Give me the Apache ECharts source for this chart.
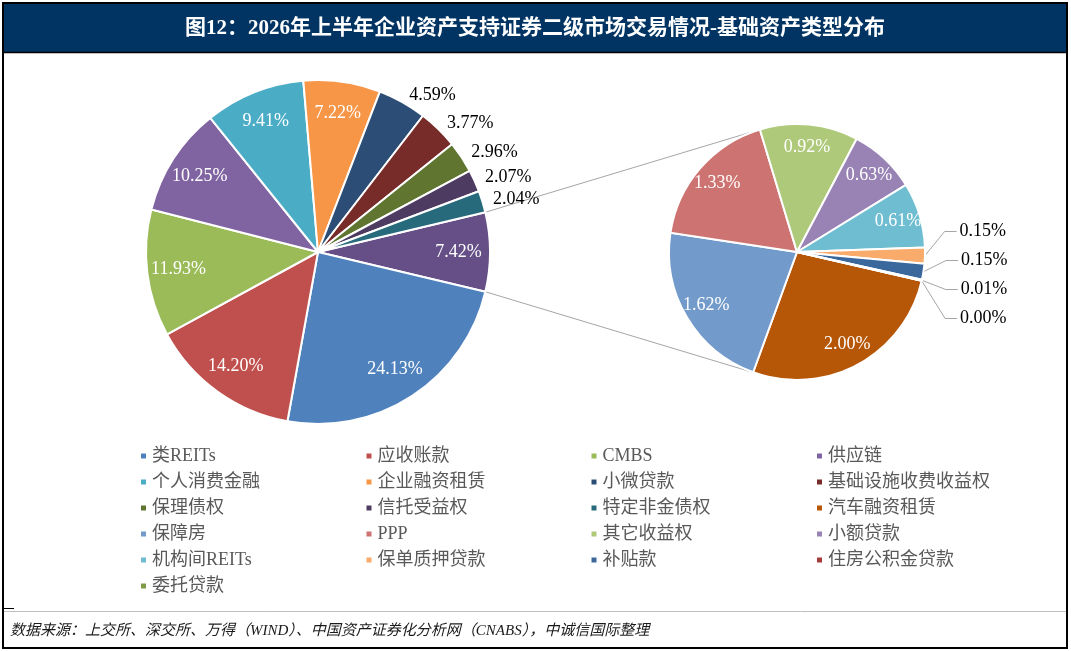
<!DOCTYPE html>
<html>
<head>
<meta charset="utf-8">
<title>基础资产类型分布</title>
<script src="https://cdn.jsdelivr.net/npm/echarts@6/dist/echarts.min.js"></script>
<style>
  html, body { margin: 0; padding: 0; background: #fff; }
  #chart { width: 1071px; height: 651px; }
</style>
</head>
<body>
<div id="chart"></div>
<script>
// 主饼图：各基础资产类型（占比 %）
const mainNames = ['类REITs', '应收账款', 'CMBS', '供应链', '个人消费金融', '企业融资租赁',
  '小微贷款', '基础设施收费收益权', '保理债权', '信托受益权', '特定非金债权'];
const mainValues = [24.13, 14.20, 11.93, 10.25, 9.41, 7.22, 4.59, 3.77, 2.96, 2.07, 2.04];
const mainColors = ['#4F81BD', '#C0504D', '#9BBB59', '#8064A2', '#4BACC6', '#F79646',
  '#2C4D75', '#772C2A', '#5F7530', '#4D3B62', '#276A7C'];

// 子饼图：其他类型拆分
const subNames = ['汽车融资租赁', '保障房', 'PPP', '其它收益权', '小额贷款', '机构间REITs',
  '保单质押贷款', '补贴款', '住房公积金贷款', '委托贷款'];
const subValues = [2.00, 1.62, 1.33, 0.92, 0.63, 0.61, 0.15, 0.15, 0.01, 0.00];
const subColors = ['#B65708', '#729ACA', '#CD7371', '#AFC97A', '#9983B5', '#6FBDD1',
  '#F9AB6B', '#3A679C', '#A43D3A', '#7F9A48'];

const otherName = '其他';
const otherColor = '#654F86';

// 图例顺序（4 列）
const legendOrder = mainNames.concat(subNames);

const TITLE = '图12：2026年上半年企业资产支持证券二级市场交易情况-基础资产类型分布';
const FOOTER = '数据来源：上交所、深交所、万得（WIND）、中国资产证券化分析网（CNABS），中诚信国际整理';

const FONT = '"Liberation Serif", "Times New Roman", "Noto Sans CJK SC", serif';

// 布局
const MAIN_C = [318, 252], MAIN_R = 172;
const SUB_C = [797, 252], SUB_R = 128;
const SUB_START = -13;
const SUB_LABEL_BOTTOM = 333;   // 子饼外侧标签的下边界
const INSIDE_MIN = 0.06;        // 占比低于此值的扇区标签放在外面
const LEG_X = [139, 364.5, 589.5, 815];

const otherValue = +subValues.reduce((a, b) => a + b, 0).toFixed(2);
const mainTotal = mainValues.reduce((a, b) => a + b, 0) + otherValue;
const subTotal = otherValue;
const mainStart = otherValue / mainTotal * 180;

const mainItems = [{ name: otherName, value: otherValue, color: otherColor }]
  .concat(mainNames.map((n, i) => ({ name: n, value: mainValues[i], color: mainColors[i] })));
const subItems = subNames.map((n, i) => ({ name: n, value: subValues[i], color: subColors[i] }));

const pct = p => p.value.toFixed(2) + '%';

function realData(items, total) {
  return items.map(it => ({
    name: it.name,
    value: it.value,
    itemStyle: { color: it.color },
    label: { show: it.value / total < INSIDE_MIN }
  }));
}

function labelData(items, total) {
  return items.map(it => ({
    name: it.name,
    value: it.value,
    label: { show: it.value / total >= INSIDE_MIN }
  }));
}

// 连接线：主饼"其他"扇区两端到子饼的切线
function tangentPoint(P, C, r, upper) {
  const dx = P[0] - C[0], dy = C[1] - P[1];
  const d = Math.sqrt(dx * dx + dy * dy);
  const base = Math.atan2(dy, dx);
  const delta = Math.acos(r / d);
  const a = upper ? base - delta : base + delta;
  return [C[0] + r * Math.cos(a), C[1] - r * Math.sin(a)];
}
const a0 = mainStart * Math.PI / 180;
const P1 = [MAIN_C[0] + MAIN_R * Math.cos(a0), MAIN_C[1] - MAIN_R * Math.sin(a0)];
const P2 = [MAIN_C[0] + MAIN_R * Math.cos(a0), MAIN_C[1] + MAIN_R * Math.sin(a0)];
const T1 = tangentPoint(P1, SUB_C, SUB_R, true);
const T2 = tangentPoint(P2, SUB_C, SUB_R, false);

const legendCols = [0, 1, 2, 3].map(k => legendOrder.filter((n, i) => i % 4 === k));

const chart = echarts.init(document.getElementById('chart'));

const labelFont = { fontSize: 18, fontFamily: FONT };

const option = {
  animation: false,
  backgroundColor: '#fff',
  graphic: [
    { type: 'rect', z: -10, shape: { x: 3, y: 3, width: 1064, height: 645 },
      style: { fill: '#fff', stroke: '#000', lineWidth: 2 } },
    { type: 'rect', z: -9, shape: { x: 4, y: 4, width: 1062, height: 48 },
      style: { fill: '#013463' } },
    { type: 'line', z: -9, shape: { x1: 4, y1: 52.5, x2: 1066, y2: 52.5 },
      style: { stroke: '#000', lineWidth: 1.5 } },
    { type: 'text', z: -8, x: 535, y: 29,
      style: { text: TITLE, fill: '#fff', font: 'bold 21px ' + FONT, align: 'center', verticalAlign: 'middle' } },
    { type: 'line', z: -9, shape: { x1: 4, y1: 611.5, x2: 1066, y2: 611.5 },
      style: { stroke: '#BFBFBF', lineWidth: 1 } },
    { type: 'line', z: -9, shape: { x1: 4, y1: 608.5, x2: 14, y2: 608.5 },
      style: { stroke: '#000', lineWidth: 1 } },
    { type: 'text', z: -8, x: 10, y: 631,
      style: { text: FOOTER, fill: '#1A1A1A', font: 'italic 15px ' + FONT, verticalAlign: 'middle' } },
    { type: 'line', z: -5, shape: { x1: P1[0], y1: P1[1], x2: T1[0], y2: T1[1] },
      style: { stroke: '#A6A6A6', lineWidth: 1 } },
    { type: 'line', z: -5, shape: { x1: P2[0], y1: P2[1], x2: T2[0], y2: T2[1] },
      style: { stroke: '#A6A6A6', lineWidth: 1 } }
  ],
  legend: legendCols.map((names, k) => ({
    orient: 'vertical',
    left: LEG_X[k],
    top: 446,
    padding: 0,
    icon: 'rect',
    itemWidth: 7,
    itemHeight: 7,
    itemGap: 6,
    selectedMode: false,
    textStyle: { color: '#595959', fontSize: 18, fontFamily: FONT, lineHeight: 20 },
    data: names
  })),
  series: [
    {
      type: 'pie',
      name: 'main-pie',
      center: MAIN_C,
      radius: [0, MAIN_R],
      startAngle: mainStart,
      clockwise: true,
      silent: true,
      avoidLabelOverlap: false,
      itemStyle: { borderColor: '#fff', borderWidth: 2 },
      label: Object.assign({ position: 'outside', color: '#000', formatter: pct, distanceToLabelLine: 3 }, labelFont),
      labelLine: { show: false, length: 8, length2: 0 },
      data: realData(mainItems, mainTotal)
    },
    {
      type: 'pie',
      name: 'sub-pie',
      left: 0,
      top: 0,
      width: 1071,
      height: SUB_LABEL_BOTTOM,
      center: SUB_C,
      radius: [0, SUB_R],
      startAngle: SUB_START,
      clockwise: true,
      silent: true,
      avoidLabelOverlap: true,
      itemStyle: { borderColor: '#fff', borderWidth: 2 },
      label: Object.assign({ position: 'outside', color: '#000', formatter: pct, distanceToLabelLine: 3, lineHeight: 27 }, labelFont),
      labelLine: { show: true, length: 24, length2: 12, lineStyle: { color: '#A6A6A6', width: 1 } },
      data: realData(subItems, subTotal)
    },
    // 仅用于放置扇区内标签（约 0.8 倍半径处）
    {
      type: 'pie',
      name: 'main-label',
      center: MAIN_C,
      radius: [0, MAIN_R * 1.6],
      startAngle: mainStart,
      clockwise: true,
      silent: true,
      legendHoverLink: false,
      itemStyle: { color: 'rgba(0,0,0,0)' },
      label: Object.assign({ position: 'inside', color: '#fff', formatter: pct }, labelFont),
      data: labelData(mainItems, mainTotal)
    },
    {
      type: 'pie',
      name: 'sub-label',
      center: SUB_C,
      radius: [0, SUB_R * 1.6],
      startAngle: SUB_START,
      clockwise: true,
      silent: true,
      legendHoverLink: false,
      itemStyle: { color: 'rgba(0,0,0,0)' },
      label: Object.assign({ position: 'inside', color: '#fff', formatter: pct }, labelFont),
      data: labelData(subItems, subTotal)
    }
  ]
};

chart.setOption(option);

window.addEventListener('resize', () => {
  chart.resize();
});
</script>
</body>
</html>
